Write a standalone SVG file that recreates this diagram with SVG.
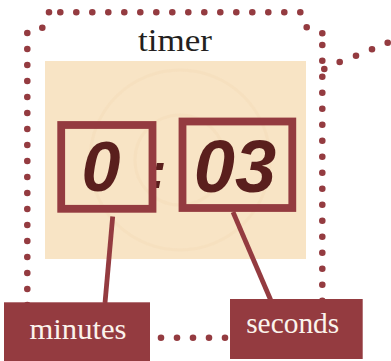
<svg xmlns="http://www.w3.org/2000/svg" width="391" height="361" viewBox="0 0 391 361">
  <defs>
    <style>
      .dots { fill: none; stroke: #943b40; stroke-width: 6.6; stroke-linecap: round; }
      .frame { fill: none; stroke: #943b40; stroke-width: 7.8; }
      .lead { stroke: #943b40; stroke-width: 4.8; stroke-linecap: butt; }
      .label { fill: #943b40; }
      .labeltext { font-family: "Liberation Serif", "DejaVu Serif", serif; font-size: 30px; fill: #fbf3ec; }
      .digit { font-family: "Liberation Sans", Arial, sans-serif; font-weight: bold; font-style: italic; fill: #5a1f1d; }
      .title { font-family: "Liberation Serif", "DejaVu Serif", serif; font-size: 32px; fill: #231f20; }
      .ring { fill: none; stroke: #f4dcb9; stroke-width: 3; opacity: 0.45; }
    </style>
  </defs>

  <g id="timer-frame">
    <path class="dots" d="M27.3,33h0M27.3,49h0M27.3,65h0M27.3,81h0M27.3,97h0M27.3,113h0M27.3,129h0M27.3,145h0M27.3,161h0M27.3,177h0M27.3,193h0M27.3,209h0M27.3,225h0M27.3,241h0M27.3,257h0M27.3,273h0M27.3,289h0M27.3,305h0M42.3,27.7h0M49,12.3h0M60.3,12.3h0M76.3,12.3h0M92.3,12.3h0M108.3,12.3h0M124.3,12.3h0M140.3,12.3h0M156.3,12.3h0M172.3,12.3h0M188.3,12.3h0M204.3,12.3h0M220.3,12.3h0M236.3,12.3h0M252.3,12.3h0M268.3,12.3h0M284.3,12.3h0M300.3,12.3h0M306.7,27.3h0M322.3,33.3h0M322.3,45h0M322.3,60.7h0M322.3,76.7h0M322.3,92.7h0M322.3,108.7h0M322.3,124.7h0M322.3,140.7h0M322.3,156.7h0M322.3,172.7h0M322.3,188.7h0M322.3,204.7h0M322.3,220.7h0M322.3,236.7h0M322.3,252.7h0M322.3,268.7h0M322.3,284.7h0M322.3,300.7h0"/>
    <text class="title" x="175" y="51" text-anchor="middle" textLength="74" lengthAdjust="spacingAndGlyphs">timer</text>
  </g>

  <g id="timer-display">
    <rect x="45" y="61" width="261" height="198" fill="#f8e4c5"/>
    <circle class="ring" cx="180" cy="160" r="45"/>
    <circle class="ring" cx="180" cy="160" r="90"/>
    <text class="digit" x="101" y="191" font-size="70" text-anchor="middle">0</text>
    <text class="digit" x="158" y="188" font-size="50" text-anchor="middle">:</text>
    <text class="digit" x="235" y="192" font-size="74" text-anchor="middle">03</text>
  </g>

  <g id="connectors">
    <path class="dots" d="M324.3,69h0M339.7,62h0M356,55.7h0M372,49.3h0M387.7,42.7h0M161,337.7h0M177,337.7h0M193,337.7h0M209,337.7h0M225,337.7h0"/>
    <line class="lead" x1="112.7" y1="216.5" x2="105" y2="303"/>
    <line class="lead" x1="233" y1="212" x2="270.7" y2="300"/>
  </g>

  <g id="minutes-frame">
    <rect class="frame" x="61.2" y="125" width="91.3" height="83.8"/>
  </g>

  <g id="seconds-frame">
    <rect class="frame" x="182.5" y="121.5" width="109.8" height="86.5"/>
  </g>

  <g id="minutes">
    <rect class="label" x="4" y="302.3" width="146" height="60"/>
    <text class="labeltext" x="78" y="339" text-anchor="middle" textLength="97" lengthAdjust="spacingAndGlyphs">minutes</text>
  </g>

  <g id="seconds">
    <rect class="label" x="230" y="299" width="132.7" height="60"/>
    <text class="labeltext" x="292.7" y="332.7" text-anchor="middle" textLength="93" lengthAdjust="spacingAndGlyphs">seconds</text>
  </g>
</svg>
